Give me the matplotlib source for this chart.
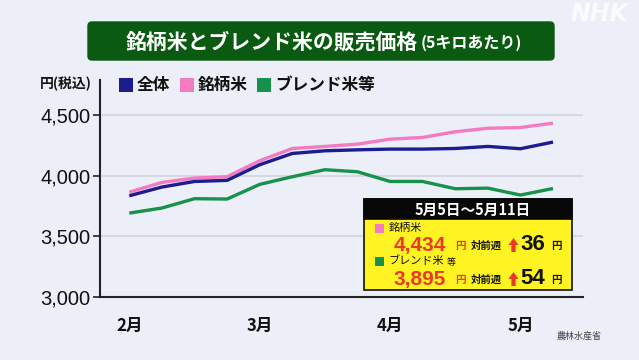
import matplotlib
matplotlib.use("Agg")
import matplotlib.pyplot as plt
from matplotlib.patches import Rectangle, FancyBboxPatch, FancyArrow

plt.rcParams['font.family'] = ['Noto Sans CJK JP', 'DejaVu Sans']

# ---- data ----
weeks = list(range(14))
month_ticks = [0, 4, 8, 12]
month_labels = ['2月', '3月', '4月', '5月']
overall = [3835, 3907, 3953, 3962, 4091, 4184, 4206, 4214, 4220, 4220, 4225, 4242, 4223, 4278]
brand = [3865, 3945, 3981, 3992, 4124, 4225, 4242, 4261, 4302, 4316, 4363, 4392, 4398, 4434]
blend = [3692, 3734, 3811, 3808, 3929, 3992, 4050, 4033, 3953, 3953, 3893, 3898, 3841, 3895]
series_names = ['全体', '銘柄米', 'ブレンド米等']
y_ticks = [3000, 3500, 4000, 4500]
box_period = '5月5日～5月11日'
box_prices = ['4,434', '3,895']
box_changes = ['36', '54']

BG = '#eceef8'
C_BLUE = '#1b1d8f'
C_PINK = '#f27bc1'
C_GREEN = '#17924a'
colors = [C_BLUE, C_PINK, C_GREEN]

W, H = 639, 360
fig = plt.figure(figsize=(W / 100, H / 100), dpi=100, facecolor=BG)

def fr(x0, y0, x1, y1):
    return [x0 / W, 1 - y1 / H, (x1 - x0) / W, (y1 - y0) / H]

ax = fig.add_axes(fr(100, 80, 583, 297))
ax.set_facecolor(BG)
for yv in y_ticks[1:]:
    ax.axhline(yv, color='#d3d4df', lw=1.2, zorder=1)
ax.plot(weeks, brand, color=C_PINK, lw=2.4, zorder=3, solid_capstyle='butt')
ax.plot(weeks, overall, color=C_BLUE, lw=2.4, zorder=4, solid_capstyle='butt')
ax.plot(weeks, blend, color=C_GREEN, lw=2.4, zorder=3, solid_capstyle='butt')
ax.set_xlim(-0.9, 13.92)
ax.set_ylim(3000, 4790)
ax.set_yticks(y_ticks)
ax.set_yticklabels([f'{v:,}' for v in y_ticks], family='Liberation Sans', fontsize=14.5, color='#111111')
ax.set_xticks(month_ticks)
ax.set_xticklabels(month_labels, fontsize=12, fontweight='bold', color='#111111')
ax.tick_params(axis='x', length=0, pad=14)
ax.tick_params(axis='y', length=5, width=1.2, pad=2, color='#222222')
for s in ['top', 'right']:
    ax.spines[s].set_visible(False)
for s in ['left', 'bottom']:
    ax.spines[s].set_linewidth(1.5)
    ax.spines[s].set_color('#222222')

# ---- overlay in pixel coordinates ----
ov = fig.add_axes([0, 0, 1, 1], zorder=10)
ov.set_xlim(0, W)
ov.set_ylim(H, 0)
ov.axis('off')
ov.patch.set_alpha(0)

# title
ov.add_patch(FancyBboxPatch((88, 22), 466, 38, boxstyle='round,pad=0,rounding_size=4',
                            fc='#0b5a12', ec='#0b5a12'))
ov.text(418, 42, '銘柄米とブレンド米の販売価格', ha='right', va='center', color='white',
        fontsize=15, fontweight='bold')
ov.text(421, 43, '(5キロあたり)', ha='left', va='center', color='white', fontsize=11.5, fontweight='bold')

# NHK logo
ov.text(599, 14, 'NHK', ha='center', va='center', color='white', alpha=0.8,
        fontsize=17, fontweight='bold', style='italic', family='DejaVu Sans')

# y unit
ov.text(66, 84, '円(税込)', ha='center', va='center', fontsize=10, fontweight='bold', color='#111111')

# legend
lx = [119, 180, 257]
for x0, c, name in zip(lx, colors, series_names):
    ov.add_patch(Rectangle((x0, 78), 14, 14, fc=c, ec='none'))
    ov.text(x0 + 18, 85, name, ha='left', va='center', fontsize=12, fontweight='bold', color='#111111')

# source
ov.text(579, 336, '農林水産省', ha='center', va='center', fontsize=6.5, color='#444444')

# yellow info box
bx0, by0, bx1, by1 = 364, 199, 572, 290
ov.add_patch(Rectangle((bx0, by0), bx1 - bx0, by1 - by0, fc='#fff323', ec='#111111', lw=1.2))
ov.add_patch(Rectangle((bx0, by0), bx1 - bx0, 20, fc='#080808', ec='#080808', lw=1.2))
ov.text(473, 209.5, box_period, ha='center', va='center', color='white',
        fontsize=10.5, fontweight='bold')

row_label_y = [228, 261]
row_price_y = [245, 279]
row_colors = [C_PINK, C_GREEN]
row_names = ['銘柄米', 'ブレンド米']
for i in range(2):
    ov.add_patch(Rectangle((375, row_label_y[i] - 4.5), 9, 9, fc=row_colors[i], ec='none'))
    ov.text(389, row_label_y[i], row_names[i], ha='left', va='center', fontsize=8, color='#111111')
    if i == 1:
        ov.text(447, row_label_y[i] + 1.5, '等', ha='left', va='center', fontsize=6.5, color='#111111')
    ov.text(446, row_price_y[i], box_prices[i], ha='right', va='center', family='Liberation Sans',
            fontsize=15, fontweight='bold', color='#ea3a26')
    ov.text(455, row_price_y[i] + 1, '円', ha='left', va='center', fontsize=7.5, fontweight='bold',
            color='#ea3a26')
    ov.text(471, row_price_y[i] + 1, '対前週', ha='left', va='center', fontsize=7.5, fontweight='bold',
            color='#111111')
    ov.add_patch(FancyArrow(513.5, row_price_y[i] + 7, 0, -14, width=4.2, head_width=10,
                            head_length=7, length_includes_head=True, fc='#ea3a26', ec='none'))
    ov.text(520, row_price_y[i], box_changes[i], ha='left', va='center', family='Liberation Sans',
            fontsize=16, fontweight='bold', color='#111111')
    ov.text(551, row_price_y[i] + 1, '円', ha='left', va='center', fontsize=7.5, fontweight='bold',
            color='#111111')

fig.savefig('out.png', dpi=100, facecolor=BG)
